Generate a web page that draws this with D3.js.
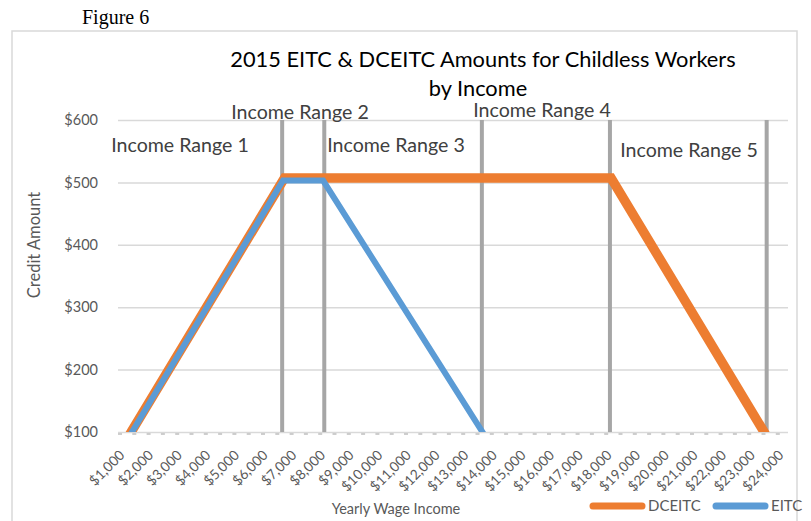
<!DOCTYPE html>
<html>
<head>
<meta charset="utf-8">
<script src="https://cdn.jsdelivr.net/npm/d3@7"></script>
<style>
  body { margin: 0; background: #fff; }
  svg { display: block; }
  text { font-family: Lato, "Noto Sans", sans-serif; }
</style>
</head>
<body>
<svg id="chart" width="811" height="521"></svg>
<script>
// data
const incomeTicks = d3.range(1000, 25000, 1000);
const amountTicks = [100, 200, 300, 400, 500, 600];

const eitcIncome = [1280, 6550, 7950, 13510];
const eitcAmount = [100, 503, 503, 100];

const dceitcIncome = [1250, 6600, 18000, 23340];
const dceitcAmount = [100, 507, 507, 100];

const rangeBounds = [6520, 7990, 13490, 17960, 23430];
const rangeNames = ["Income Range 1", "Income Range 2", "Income Range 3", "Income Range 4", "Income Range 5"];

const svg = d3.select("#chart");

// plot box
const plotLeft = 118, plotRight = 788, plotTop = 120, plotBottom = 432;

let x = d3.scaleLinear().domain([1000, 24000]).range([124, 783]);
let y = d3.scaleLinear().domain([100, 600]).range([plotBottom, plotTop]);

// outer chart frame
svg.append("rect")
   .attr("x", 12).attr("y", 31)
   .attr("width", 785).attr("height", 520)
   .attr("fill", "none")
   .attr("stroke", "#d9d9d9")
   .attr("stroke-width", 1.5);

svg.append("text")
   .attr("x", 82).attr("y", 24)
   .style("font-family", "'Liberation Serif', 'DejaVu Serif', serif")
   .style("font-size", "20px")
   .attr("fill", "#000")
   .text("Figure 6");

// title
let title = svg.append("text")
   .attr("text-anchor", "middle")
   .style("font-size", "21.8px")
   .attr("fill", "#000");
title.append("tspan").attr("x", 483).attr("y", 67).text("2015 EITC & DCEITC Amounts for Childless Workers");
title.append("tspan").attr("x", 478).attr("y", 96).text("by Income");

// y axis + gridlines
let yAxis = svg.append("g")
   .attr("transform", `translate(${plotLeft},0)`)
   .call(d3.axisLeft(y).tickValues(amountTicks).tickSize(-(plotRight - plotLeft)).tickPadding(20).tickFormat(d => "$" + d));
yAxis.select(".domain").remove();
yAxis.selectAll("line").attr("stroke", "#d9d9d9").attr("stroke-width", 1.5);
yAxis.selectAll("text")
     .attr("fill", "#595959")
     .style("font-size", "14.5px");

// dashed marks along the $100 axis
svg.append("line")
   .attr("x1", plotLeft).attr("x2", plotRight)
   .attr("y1", plotBottom + 2).attr("y2", plotBottom + 2)
   .attr("stroke", "#bfbfbf")
   .attr("stroke-width", 1.5)
   .attr("stroke-dasharray", "4,10.3");

// x axis labels
let xAxis = svg.append("g")
   .attr("transform", `translate(0,${plotBottom})`)
   .call(d3.axisBottom(x).tickValues(incomeTicks).tickSize(0).tickFormat(d3.format("$,")));
xAxis.select(".domain").remove();
xAxis.selectAll("text")
     .attr("x", 0).attr("y", 0).attr("dy", 0)
     .attr("text-anchor", "end")
     .attr("transform", "translate(1,24) rotate(-45)")
     .attr("fill", "#595959")
     .style("font-size", "13.8px");

// axis titles
svg.append("text")
   .attr("transform", "translate(40,245) rotate(-90)")
   .attr("text-anchor", "middle")
   .attr("fill", "#595959")
   .style("font-size", "16.5px")
   .text("Credit Amount");

svg.append("text")
   .attr("x", 396).attr("y", 514)
   .attr("text-anchor", "middle")
   .attr("fill", "#595959")
   .style("font-size", "14.5px")
   .text("Yearly Wage Income");

// income range boundaries
svg.selectAll(".range")
   .data(rangeBounds)
   .join("line")
   .attr("class", "range")
   .attr("x1", d => x(d)).attr("x2", d => x(d))
   .attr("y1", y(600)).attr("y2", y(100))
   .attr("stroke", "#a6a6a6")
   .attr("stroke-width", 4);

// range labels (layout positions)
const rangeLabelPos = [[180, 152], [300, 119], [396, 152], [542, 117], [689, 157]];
svg.selectAll(".rlabel")
   .data(rangeNames)
   .join("text")
   .attr("class", "rlabel")
   .attr("x", (d, i) => rangeLabelPos[i][0])
   .attr("y", (d, i) => rangeLabelPos[i][1])
   .attr("text-anchor", "middle")
   .attr("fill", "#404040")
   .style("font-size", "19.6px")
   .text(d => d);

// series lines
svg.append("clipPath").attr("id", "plotclip")
   .append("rect").attr("x", 0).attr("y", 0).attr("width", 811).attr("height", plotBottom);

let lineGen = d3.line().x(d => x(d[0])).y(d => y(d[1]));

let dceitc = d3.zip(dceitcIncome, dceitcAmount);
let eitc = d3.zip(eitcIncome, eitcAmount);

svg.append("path")
   .attr("d", lineGen(dceitc))
   .attr("fill", "none")
   .attr("stroke", "#ed7d31")
   .attr("stroke-width", 9.5)
   .attr("stroke-linecap", "square")
   .attr("clip-path", "url(#plotclip)");

svg.append("path")
   .attr("d", lineGen(eitc))
   .attr("fill", "none")
   .attr("stroke", "#5b9bd5")
   .attr("stroke-width", 6)
   .attr("stroke-linecap", "square")
   .attr("clip-path", "url(#plotclip)");

// legend
const legendItems = [
    { label: "DCEITC", color: "#ed7d31", x: 593 },
    { label: "EITC", color: "#5b9bd5", x: 716 }
];
legendItems.forEach(d => {
    svg.append("line")
       .attr("x1", d.x).attr("x2", d.x + 49)
       .attr("y1", 506).attr("y2", 506)
       .attr("stroke", d.color)
       .attr("stroke-width", 7)
       .attr("stroke-linecap", "round");
    svg.append("text")
       .attr("x", d.x + 55).attr("y", 511)
       .attr("fill", "#595959")
       .style("font-size", "15px")
       .text(d.label);
});
</script>
</body>
</html>
